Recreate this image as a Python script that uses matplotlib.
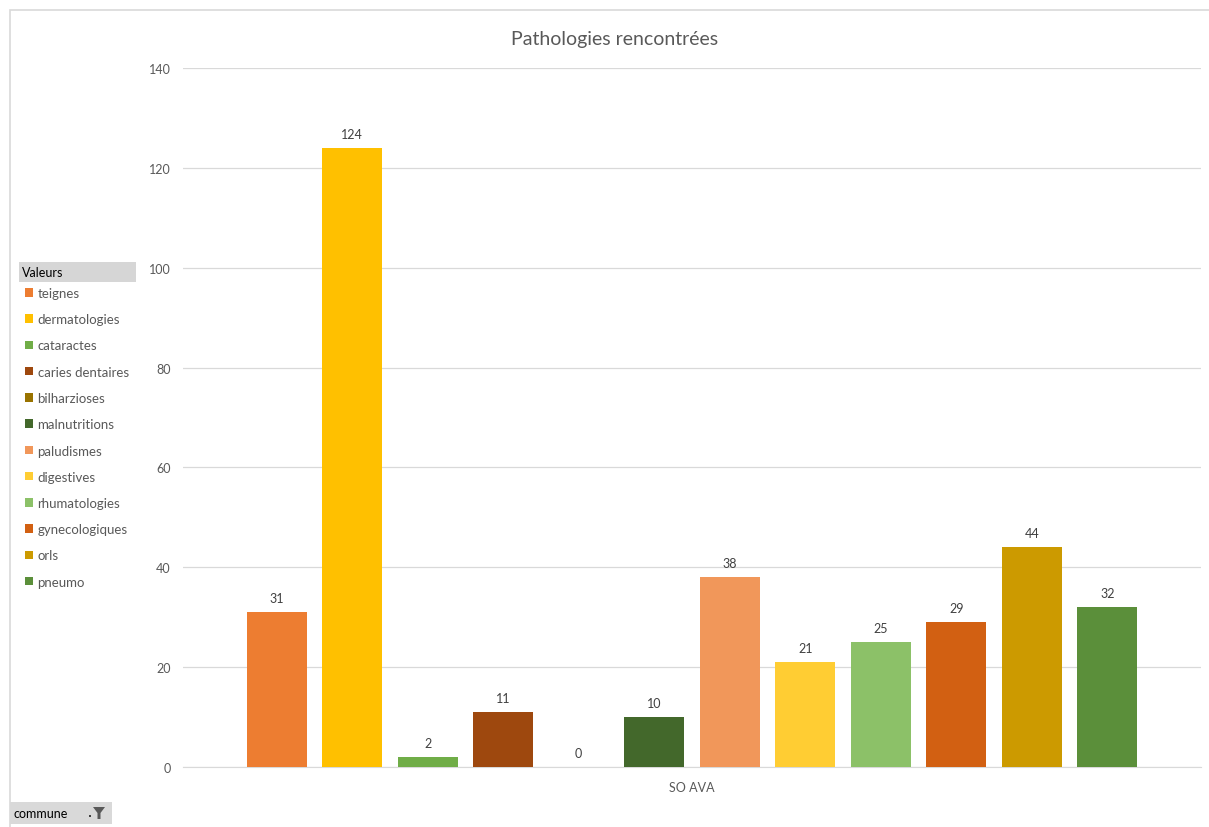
import numpy as np
import matplotlib
matplotlib.use("Agg")
import matplotlib.pyplot as plt
from matplotlib.patches import Rectangle, Polygon

plt.rcParams['font.family'] = ['Lato', 'DejaVu Sans']

categories = ["SO AVA"]
series = ["teignes", "dermatologies", "cataractes", "caries dentaires", "bilharzioses",
          "malnutritions", "paludismes", "digestives", "rhumatologies", "gynecologiques",
          "orls", "pneumo"]
values = [31, 124, 2, 11, 0, 10, 38, 21, 25, 29, 44, 32]
colors = ["#ED7D31", "#FFC000", "#70AD47", "#9E480E", "#997300", "#43682B",
          "#F1975A", "#FFCD33", "#8CC168", "#D26012", "#CC9A00", "#5B8F3A"]
yticks = [0, 20, 40, 60, 80, 100, 120, 140]

W, H = 1209, 828
fig = plt.figure(figsize=(W / 100, H / 100), dpi=100)
fig.patch.set_facecolor("white")

# outer chart border
fig.patches.append(Rectangle((10 / W, -0.01), 1.0, (H - 11) / H + 0.01, transform=fig.transFigure,
                             fill=False, edgecolor="#d9d9d9", linewidth=1.2))

ax = fig.add_axes([183 / W, 1 - 768 / H, (1201 - 183) / W, (768 - 69) / H])
slot = 0.0742
width = 0.0589
n = len(series)
handles = []
for i, (name, v, c) in enumerate(zip(series, values, colors)):
    x = (i - (n - 1) / 2) * slot
    b = ax.bar([x], [v], width=width, color=c, label=name, zorder=3)
    ax.bar_label(b, labels=[str(v)], padding=6, fontsize=9, color="#404040")
    handles.append(b)

ax.set_xlim(-0.5, 0.5)
ax.set_ylim(0, 140)
ax.set_yticks(yticks)
ax.set_xticks([0])
ax.set_xticklabels(categories)
ax.grid(axis="y", color="#d9d9d9", linewidth=0.9, zorder=0)
ax.set_axisbelow(True)
for s in ["top", "right", "left"]:
    ax.spines[s].set_visible(False)
ax.spines["bottom"].set_color("#d9d9d9")
ax.tick_params(axis="y", length=0, pad=9, labelsize=9, labelcolor="#595959")
ax.tick_params(axis="x", length=0, pad=10, labelsize=9, labelcolor="#595959")

fig.text(615 / W, 1 - 39 / H, "Pathologies rencontrées", ha="center", va="center",
         fontsize=14, color="#595959")

# legend header
fig.patches.append(Rectangle((19 / W, 1 - 283 / H), (136 - 19) / W, 20 / H,
                             transform=fig.transFigure, facecolor="#d6d6d6", edgecolor="none"))
fig.text(22 / W, 1 - 273 / H, "Valeurs", ha="left", va="center", fontsize=9, color="black")

leg = fig.legend(handles=handles, labels=series, loc="upper left",
                 bbox_to_anchor=(25 / W, 1 - 288 / H), frameon=False, fontsize=9.5,
                 labelspacing=1.08, handlelength=0.6, handleheight=0.6,
                 handletextpad=0.35, borderaxespad=0, borderpad=0)
for t in leg.get_texts():
    t.set_color("#595959")

# "commune" filter button
fig.patches.append(Rectangle((10 / W, 1 - 825 / H), (112 - 10) / W, 22 / H,
                             transform=fig.transFigure, facecolor="#d9d9d9", edgecolor="none"))
fig.text(14 / W, 1 - 814 / H, "commune", ha="left", va="center", fontsize=9, color="black")
fig.patches.append(Polygon([(93 / W, 1 - 808 / H), (105 / W, 1 - 808 / H), (100.5 / W, 1 - 814 / H),
                            (100.5 / W, 1 - 820 / H), (97.5 / W, 1 - 820 / H), (97.5 / W, 1 - 814 / H)],
                           closed=True, transform=fig.transFigure, facecolor="#595959", edgecolor="none"))
fig.patches.append(Rectangle((89 / W, 1 - 818 / H), 2 / W, 2 / H, transform=fig.transFigure,
                             facecolor="#404040", edgecolor="none"))

fig.savefig("out.png", dpi=100)
